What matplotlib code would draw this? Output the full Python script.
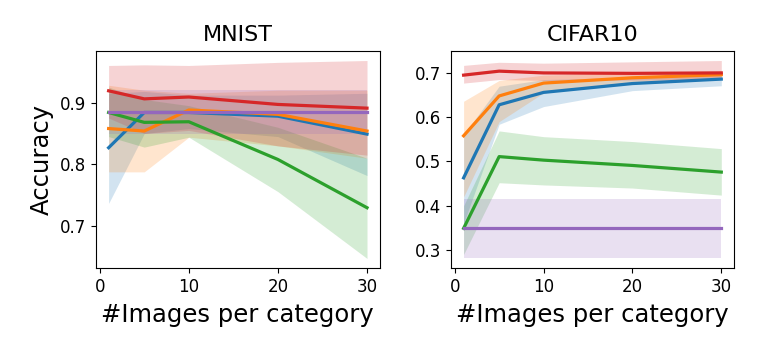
import numpy as np
import matplotlib
matplotlib.use('Agg')
import matplotlib.pyplot as plt

#number of images per category
x = np.array([1, 5, 10, 20, 30])

#MNIST accuracies (mean, lower, upper) for each method
mnist_mean = [
	[0.827, 0.884, 0.884, 0.878, 0.849],
	[0.858, 0.854, 0.888, 0.881, 0.854],
	[0.884, 0.868, 0.869, 0.808, 0.730],
	[0.919, 0.906, 0.909, 0.897, 0.891],
	[0.885, 0.885, 0.885, 0.885, 0.885],
]
mnist_low = [
	[0.737, 0.850, 0.858, 0.845, 0.782],
	[0.788, 0.788, 0.844, 0.830, 0.810],
	[0.845, 0.828, 0.844, 0.756, 0.648],
	[0.875, 0.850, 0.855, 0.830, 0.815],
	[0.850, 0.850, 0.850, 0.850, 0.850],
]
mnist_high = [
	[0.915, 0.918, 0.912, 0.912, 0.915],
	[0.928, 0.920, 0.915, 0.920, 0.920],
	[0.925, 0.905, 0.895, 0.860, 0.810],
	[0.960, 0.961, 0.960, 0.965, 0.968],
	[0.920, 0.920, 0.920, 0.920, 0.920],
]

#CIFAR10 accuracies (mean, lower, upper)
cifar_mean = [
	[0.463, 0.628, 0.656, 0.676, 0.686],
	[0.558, 0.648, 0.677, 0.689, 0.696],
	[0.349, 0.511, 0.503, 0.491, 0.476],
	[0.695, 0.704, 0.700, 0.699, 0.700],
	[0.349, 0.349, 0.349, 0.349, 0.349],
]
cifar_low = [
	[0.360, 0.584, 0.624, 0.660, 0.671],
	[0.420, 0.590, 0.655, 0.675, 0.685],
	[0.290, 0.452, 0.447, 0.440, 0.424],
	[0.677, 0.685, 0.683, 0.684, 0.685],
	[0.281, 0.281, 0.281, 0.281, 0.281],
]
cifar_high = [
	[0.560, 0.670, 0.685, 0.690, 0.697],
	[0.636, 0.683, 0.695, 0.700, 0.705],
	[0.400, 0.569, 0.556, 0.545, 0.529],
	[0.717, 0.724, 0.722, 0.725, 0.728],
	[0.416, 0.416, 0.416, 0.416, 0.416],
]

colors = ['C0', 'C1', 'C2', 'C3', 'C4']

fig = plt.figure(figsize=(7.62, 3.54), dpi=100)
ax1 = fig.add_axes([0.1256, 0.242, 0.373, 0.615])
ax2 = fig.add_axes([0.5915, 0.242, 0.372, 0.615])

def draw(ax, mean, low, high, title):
	for k in range(len(mean)):
		ax.fill_between(x, low[k], high[k], color=colors[k], alpha=0.2, linewidth=0)
	for k in range(len(mean)):
		ax.plot(x, mean[k], color=colors[k], linewidth=2.3)
	ax.set_title(title, fontsize=16, pad=7)
	ax.set_xlabel('#Images per category', fontsize=17.5, labelpad=5)
	ax.set_xticks([0, 10, 20, 30])
	ax.tick_params(labelsize=12)

draw(ax1, mnist_mean, mnist_low, mnist_high, 'MNIST')
draw(ax2, cifar_mean, cifar_low, cifar_high, 'CIFAR10')
ax1.set_yticks([0.7, 0.8, 0.9])
ax2.set_yticks([0.3, 0.4, 0.5, 0.6, 0.7])
ax1.set_ylabel('Accuracy', fontsize=17.5)

plt.savefig('out.png', dpi=100)
